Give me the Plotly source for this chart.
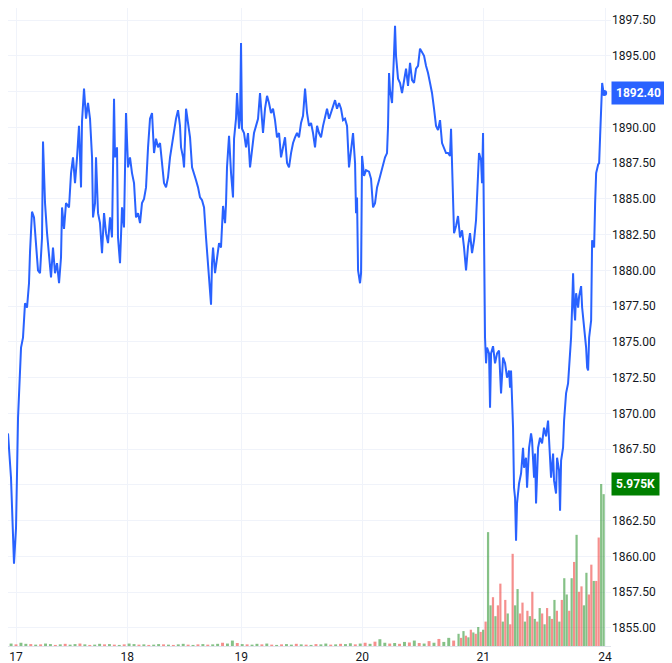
import plotly.graph_objects as go

# hours since the open of the 17th (chart position), and price readings
hours = [-1.63,-1.02,-0.41,0,0.41,1.02,1.42,1.83,2.24,2.64,2.85,3.25,3.66,4.07,4.47,4.88,5.29,5.49,5.9,6.31,
         6.71,7.12,7.52,7.93,8.34,8.75,9.15,9.36,9.76,10.17,10.78,11.19,11.59,12.0,12.41,12.81,13.22,13.42,13.83,14.24,
         14.64,15.05,15.46,15.66,16.07,16.27,16.68,17.08,17.49,17.9,18.3,18.71,19.12,19.52,19.93,20.13,20.54,20.74,21.15,21.56,
         21.96,22.37,22.78,23.18,23.59,24.0,24.4,24.81,25.22,25.62,26.03,26.44,26.85,27.25,27.66,28.07,28.47,28.88,29.29,29.69,
         30.1,30.51,30.91,31.32,31.73,32.13,32.54,32.95,33.35,33.56,33.97,34.17,34.58,34.98,35.39,35.8,36.2,36.61,37.02,37.42,
         37.83,38.24,38.64,39.05,39.25,39.66,39.86,40.07,40.47,40.88,41.29,41.69,42.1,42.51,42.71,42.91,43.32,43.73,44.13,44.34,
         44.74,44.95,45.36,45.56,45.76,45.96,46.37,46.78,47.18,47.59,48.0,48.4,48.81,49.22,49.62,50.03,50.23,50.64,51.05,51.45,
         51.86,52.27,52.67,53.08,53.49,53.9,54.3,54.71,55.12,55.52,55.93,56.34,56.74,57.15,57.55,57.96,58.37,58.78,59.18,59.59,
         60.0,60.4,60.81,61.22,61.62,62.03,62.44,62.84,63.25,63.66,64.06,64.47,64.88,65.28,65.69,66.1,66.5,66.91,67.32,67.72,
         68.13,68.54,68.95,69.15,69.35,69.56,69.96,70.17,70.37,70.78,71.18,71.79,72.2,72.61,73.01,73.42,73.83,74.23,74.64,75.05,
         75.45,75.66,75.86,76.06,76.47,76.67,76.88,77.08,77.28,77.69,78.1,78.5,78.91,79.32,79.72,80.13,80.54,80.94,81.35,81.76,
         82.16,82.57,82.98,83.38,83.79,84.2,84.6,85.01,85.42,85.82,86.23,86.64,87.04,87.45,87.86,88.26,88.47,88.67,89.08,89.49,
         89.89,90.3,90.71,91.11,91.52,91.93,92.33,92.74,93.15,93.55,93.96,94.16,94.57,94.77,94.98,95.18,95.38,95.59,95.79,96.2,
         96.4,96.61,97.01,97.42,97.83,98.23,98.44,98.64,99.05,99.46,99.86,100.27,100.47,100.67,101.08,101.28,101.49,101.69,101.89,102.3,
         102.71,103.11,103.32,103.72,103.93,104.34,104.74,104.95,105.35,105.56,105.76,106.17,106.57,106.98,107.38,107.79,108.2,108.4,108.6,108.81,
         109.22,109.42,109.83,110.03,110.44,110.64,110.85,111.25,111.46,111.66,111.86,112.27,112.48,112.88,113.09,113.29,113.5,113.7,113.9,114.31,
         114.52,114.92,115.13,115.54,115.94,116.15,116.35,116.55,116.96,117.16,117.57,117.77,117.98,118.39,118.59,118.79,119.0,119.2,119.41,119.61]
price = [1868.6,1865.5,1859.5,1862.0,1869.7,1874.6,1875.3,1877.7,1877.4,1879.1,1881.3,1884.1,1883.7,1881.9,1880.0,1879.8,1882.3,1889.0,1884.7,1882.6,
         1880.9,1879.5,1881.6,1879.8,1880.5,1879.1,1880.9,1884.4,1882.9,1884.7,1884.4,1886.8,1887.9,1886.1,1887.9,1890.1,1885.8,1890.4,1892.7,1890.6,
         1891.7,1890.6,1887.9,1883.7,1884.7,1887.9,1884.0,1883.3,1881.2,1884.0,1882.6,1881.9,1883.7,1882.3,1892.0,1887.9,1888.6,1882.3,1880.5,1884.4,
         1883.0,1891.0,1887.2,1887.9,1886.8,1886.1,1883.7,1884.0,1883.3,1884.7,1885.0,1885.8,1888.6,1890.6,1891.0,1888.2,1889.2,1888.6,1888.9,1887.5,
         1886.1,1885.8,1886.5,1887.9,1888.9,1889.6,1890.6,1891.2,1890.1,1888.6,1887.9,1887.2,1891.3,1890.3,1889.3,1887.2,1886.8,1886.3,1885.8,1885.1,
         1884.9,1884.4,1882.3,1880.5,1879.5,1877.6,1880.5,1881.6,1879.8,1880.9,1881.9,1881.6,1884.5,1883.3,1884.7,1887.2,1889.4,1886.8,1885.1,1889.2,
         1890.6,1892.4,1889.9,1890.6,1895.9,1889.9,1889.6,1888.6,1889.6,1887.2,1888.6,1889.6,1890.1,1890.6,1892.4,1890.6,1889.6,1891.3,1892.2,1891.7,
         1891.0,1891.3,1890.5,1889.3,1889.6,1887.9,1888.6,1889.3,1887.5,1887.2,1888.2,1888.9,1889.3,1889.6,1889.3,1890.3,1890.8,1892.7,1891.0,1890.1,
         1890.3,1889.6,1888.6,1890.1,1889.6,1889.3,1890.1,1890.8,1891.3,1890.6,1891.0,1891.5,1891.9,1891.3,1891.7,1891.3,1890.5,1890.6,1890.1,1887.2,
         1888.6,1889.6,1887.5,1884.0,1885.1,1880.0,1879.1,1879.8,1888.0,1886.6,1887.0,1886.9,1886.4,1884.4,1884.7,1885.8,1886.3,1886.8,1887.3,1887.9,
         1888.2,1890.1,1893.8,1892.6,1891.7,1893.1,1895.2,1897.1,1895.0,1893.4,1893.1,1892.4,1893.3,1894.1,1892.9,1894.5,1893.3,1893.1,1894.1,1894.3,
         1895.5,1895.2,1895.0,1894.3,1893.8,1893.1,1892.4,1891.3,1890.1,1889.8,1890.5,1888.9,1888.6,1888.2,1888.2,1888.0,1889.9,1887.9,1882.6,1883.1,
         1883.8,1882.3,1882.8,1881.6,1880.0,1881.7,1882.6,1881.2,1882.1,1883.5,1887.2,1888.2,1887.7,1886.1,1889.6,1883.0,1875.3,1873.5,1874.6,1874.2,
         1870.4,1874.2,1874.7,1873.5,1874.2,1874.4,1872.8,1871.4,1873.9,1873.5,1872.5,1873.0,1871.8,1873.0,1869.0,1864.8,1864.1,1861.1,1863.7,1865.1,
         1865.8,1867.6,1866.2,1866.9,1864.8,1867.6,1868.6,1868.1,1865.5,1867.2,1863.7,1867.6,1868.3,1867.9,1869.0,1868.4,1869.5,1868.3,1866.2,1865.5,
         1867.2,1865.3,1864.4,1866.9,1866.0,1863.2,1866.7,1867.6,1869.5,1870.4,1871.4,1872.1,1873.2,1875.3,1877.4,1879.8,1877.4,1876.5,1878.4,1877.4,
         1878.2,1878.9,1877.4,1876.1,1874.6,1873.2,1873.0,1875.3,1876.5,1882.1,1881.6,1884.7,1886.8,1887.4,1887.5,1889.4,1891.3,1893.1,1892.6,1892.4]

# half-hourly volume bars (from hour 90 on) and up/down flag
vol_hours = [90+0.5*i for i in range(60)]
volume = [450,300,550,380,320,600,500,450,700,520,600,900,4200,1500,1800,1100,1500,2300,900,1700,
          1200,800,3400,1500,2100,1200,1600,900,1300,1100,2000,1000,900,1400,1200,800,1400,1100,1000,1700,
          1300,900,1700,2500,1900,1300,2500,3100,4100,2000,2200,1500,2700,1900,3000,2400,2400,4000,5975,5600]
vol_up = [1,0,1,0,1,0,1,0,1,0,1,0,1,1,0,1,0,0,1,0,
          1,0,0,1,1,0,0,1,0,1,0,1,0,1,0,1,0,1,0,1,
          0,1,0,1,1,0,1,0,1,0,0,1,1,0,0,1,0,0,1,1]
# quieter session before the 21st, hourly
early_hours = list(range(-1, 90))
early_volume = [90,60,120,80,70,50,60,90,70,40,60,80,50,70,90,60,40,50,80,60,
                70,50,40,60,90,70,50,60,40,50,70,60,50,40,60,80,50,40,60,70,
                50,60,80,120,90,200,110,70,60,50,80,60,90,50,40,60,70,50,80,60,
                50,40,70,60,90,50,60,80,70,100,60,90,120,80,160,250,120,90,110,80,
                150,130,200,110,90,180,120,260,150,300,200]
early_up = [1,0,1,1,0,1,0,1,1,0,1,0,1,1,0,1,0,1,1,0,
            1,0,1,0,1,1,0,1,0,1,1,0,1,0,1,1,0,1,0,1,
            0,1,1,0,1,1,0,1,0,1,1,0,1,0,1,0,1,1,0,1,
            0,1,0,1,1,0,1,0,1,1,0,1,0,1,0,1,1,0,1,0,
            1,0,1,0,1,0,1,0,1,1,0]

last_price = 1892.40
last_volume = 5975

day_pos = [0, 22.6, 45.8, 70.4, 95, 119.8]
day_labels = ["17", "18", "19", "20", "21", "24"]
price_ticks = [1855 + 2.5 * i for i in range(18)]

green = "rgba(67,160,71,0.65)"
red = "rgba(239,83,80,0.65)"

fig = go.Figure()
fig.add_trace(go.Bar(
    x=early_hours, y=early_volume, yaxis="y2", width=0.6,
    marker=dict(color=[green if u else red for u in early_up], line=dict(width=0)),
    showlegend=False, hoverinfo="skip"))
fig.add_trace(go.Bar(
    x=vol_hours, y=volume, yaxis="y2", width=0.45,
    marker=dict(color=[green if u else red for u in vol_up], line=dict(width=0)),
    showlegend=False, hoverinfo="skip"))
fig.add_trace(go.Scatter(
    x=hours, y=price, mode="lines",
    line=dict(color="#2962ff", width=2), showlegend=False))
fig.add_trace(go.Scatter(
    x=[hours[-1]], y=[last_price], mode="markers",
    marker=dict(color="#2962ff", size=6), showlegend=False))

fig.update_layout(
    width=672, height=663,
    margin=dict(l=0, r=69, t=0, b=25),
    plot_bgcolor="white", paper_bgcolor="white",
    font=dict(family="Roboto, Arial", size=12, color="#131722"),
    barmode="overlay",
    xaxis=dict(range=[-1.63, 121.0], tickvals=day_pos, ticktext=day_labels,
               showgrid=True, gridcolor="#f0f3fa", zeroline=False,
               showline=True, linecolor="#e0e3eb", ticks="", tickfont=dict(size=12)),
    yaxis=dict(side="right", range=[1853.74, 1898.34], tickvals=price_ticks,
               tickformat=".2f", showgrid=True, gridcolor="#f0f3fa",
               zeroline=False, ticks="", tickfont=dict(size=12)),
    yaxis2=dict(overlaying="y", range=[0, 23530], visible=False, showgrid=False),
)

fig.add_annotation(x=1, xref="paper", y=last_price, yref="y", xanchor="left",
                   text="<b>1892.40</b>", showarrow=False, bgcolor="#2962ff",
                   font=dict(color="white", size=12), borderpad=4, xshift=0)
fig.add_annotation(x=1, xref="paper", y=last_volume, yref="y2", xanchor="left",
                   text="<b>5.975K</b>", showarrow=False, bgcolor="#008000",
                   font=dict(color="white", size=12), borderpad=4, xshift=0)

fig.write_html("out.html")
